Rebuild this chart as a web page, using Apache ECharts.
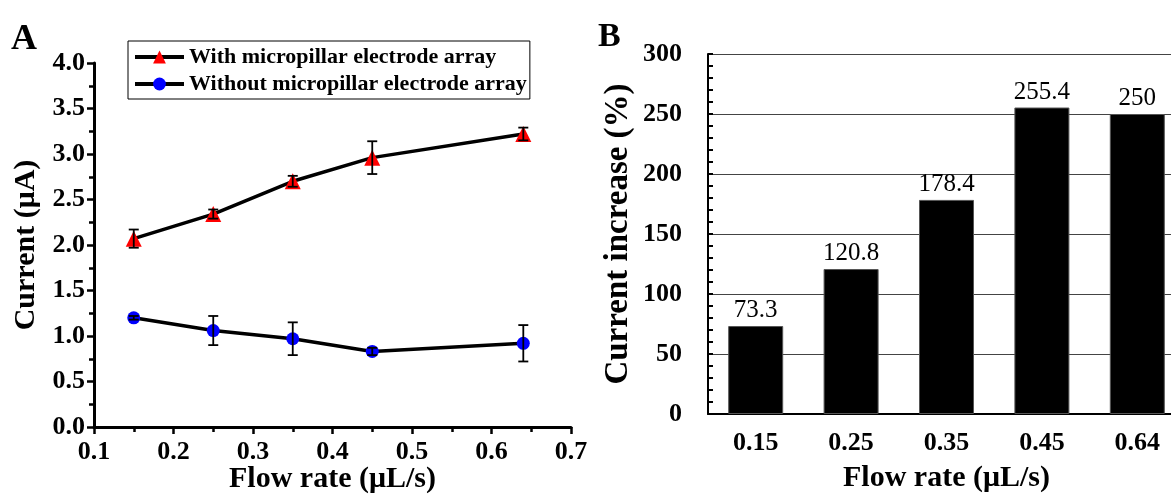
<!DOCTYPE html>
<html><head><meta charset="utf-8">
<script src="https://cdn.jsdelivr.net/npm/echarts@6/dist/echarts.min.js"></script>
<style>html,body{margin:0;padding:0;background:#fff;overflow:hidden}#c{width:1171px;height:496px}</style>
</head><body><div id="c"></div>
<script>
const flowA = [0.15, 0.25, 0.35, 0.45, 0.64];
const withArr = [2.07, 2.34, 2.70, 2.96, 3.22];
const withErr = [0.10, 0.05, 0.06, 0.18, 0.07];
const withoutArr = [1.20, 1.06, 0.97, 0.83, 0.92];
const withoutErr = [0.02, 0.16, 0.18, 0.04, 0.20];
const flowB = ['0.15', '0.25', '0.35', '0.45', '0.64'];
const increase = [73.3, 120.8, 178.4, 255.4, 250];
const nameWith = 'With micropillar electrode array';
const nameWithout = 'Without micropillar electrode array';

const F = 'Liberation Serif';
const chart = echarts.init(document.getElementById('c'), null, {renderer: 'canvas'});

function errData(xs, ys, es) { return xs.map((x, i) => [x, ys[i] - es[i], ys[i] + es[i]]); }
function errRender(params, api) {
  const lo = api.coord([api.value(0), api.value(1)]);
  const hi = api.coord([api.value(0), api.value(2)]);
  const w = 5;
  const st = {stroke: '#000', lineWidth: 1.8};
  return {type: 'group', children: [
    {type: 'line', shape: {x1: lo[0], y1: lo[1], x2: hi[0], y2: hi[1]}, style: st},
    {type: 'line', shape: {x1: lo[0] - w, y1: lo[1], x2: lo[0] + w, y2: lo[1]}, style: st},
    {type: 'line', shape: {x1: hi[0] - w, y1: hi[1], x2: hi[0] + w, y2: hi[1]}, style: st}
  ]};
}

const tickLbl = {fontFamily: F, fontWeight: 'bold', fontSize: 26, color: '#000'};
const nameX = {fontFamily: F, fontWeight: 'bold', fontSize: 30, color: '#000'};

chart.setOption({
  animation: false,
  textStyle: {fontFamily: F},
  graphic: [
    {type: 'text', left: 11, top: 22, style: {text: 'A', font: 'bold 36px "Liberation Serif"', fill: '#000'}},
    {type: 'text', left: 598, top: 20, style: {text: 'B', font: 'bold 34px "Liberation Serif"', fill: '#000'}}
  ],
  legend: {
    left: 128, top: 41, orient: 'vertical',
    data: [nameWith, nameWithout],
    itemWidth: 49, itemHeight: 16, itemGap: 5,
    padding: [5, 3, 4, 5],
    borderColor: '#000', borderWidth: 1,
    lineStyle: {width: 4, color: '#000'},
    textStyle: {fontFamily: F, fontWeight: 'bold', fontSize: 22, color: '#000'}
  },
  grid: [
    {left: 94, top: 63, width: 477, height: 364, containLabel: false, outerBoundsMode: 'none'},
    {left: 708, top: 54, width: 477, height: 360, containLabel: false, outerBoundsMode: 'none'}
  ],
  xAxis: [
    {gridIndex: 0, type: 'value', min: 0.1, max: 0.7, interval: 0.1,
     name: 'Flow rate (\u03bcL/s)', nameLocation: 'middle', nameGap: 37, nameMoveOverlap: false, nameTextStyle: nameX,
     axisLine: {lineStyle: {color: '#000', width: 3}},
     axisTick: {show: true, inside: false, length: 7, lineStyle: {color: '#000', width: 2.5}},
     minorTick: {show: true, splitNumber: 2, length: 5, lineStyle: {color: '#000', width: 2.5}},
     splitLine: {show: false},
     axisLabel: Object.assign({margin: 12, formatter: v => v.toFixed(1)}, tickLbl)},
    {gridIndex: 1, type: 'category', data: flowB,
     name: 'Flow rate (\u03bcL/s)', nameLocation: 'middle', nameGap: 49, nameMoveOverlap: false, nameTextStyle: nameX,
     axisLine: {lineStyle: {color: '#000', width: 2}},
     axisTick: {show: false},
     axisLabel: Object.assign({margin: 16}, tickLbl)}
  ],
  yAxis: [
    {gridIndex: 0, type: 'value', min: 0, max: 4, interval: 0.5,
     name: 'Current (\u03bcA)', nameLocation: 'middle', nameGap: 53, nameMoveOverlap: false,
     nameTextStyle: {fontFamily: F, fontWeight: 'bold', fontSize: 30, color: '#000'},
     axisLine: {show: true, lineStyle: {color: '#000', width: 3}},
     axisTick: {show: true, inside: false, length: 7, lineStyle: {color: '#000', width: 2.5}},
     minorTick: {show: true, splitNumber: 2, length: 5, lineStyle: {color: '#000', width: 2.5}},
     splitLine: {show: false},
     axisLabel: Object.assign({margin: 9, formatter: v => v.toFixed(1)}, tickLbl)},
    {gridIndex: 1, type: 'value', min: 0, max: 300, interval: 50,
     name: 'Current increase (%)', nameLocation: 'middle', nameGap: 73, nameMoveOverlap: false,
     nameTextStyle: {fontFamily: F, fontWeight: 'bold', fontSize: 33, color: '#000'},
     axisLine: {show: true, lineStyle: {color: '#000', width: 2}},
     axisTick: {show: true, inside: true, length: 5, lineStyle: {color: '#000', width: 2}},
     minorTick: {show: true, splitNumber: 5, length: 5, lineStyle: {color: '#000', width: 2}},
     splitLine: {show: true, lineStyle: {color: '#444', width: 1.2}},
     axisLabel: Object.assign({margin: 26}, tickLbl)}
  ],
  series: [
    {name: nameWith, type: 'line', xAxisIndex: 0, yAxisIndex: 0,
     data: flowA.map((x, i) => [x, withArr[i]]),
     symbol: 'triangle', symbolSize: 16,
     itemStyle: {color: '#ff0000'}, lineStyle: {color: '#000', width: 3.5}, z: 3},
    {name: nameWithout, type: 'line', xAxisIndex: 0, yAxisIndex: 0,
     data: flowA.map((x, i) => [x, withoutArr[i]]),
     symbol: 'circle', symbolSize: 13,
     itemStyle: {color: '#0000ff'}, lineStyle: {color: '#000', width: 3.5}, z: 3},
    {type: 'custom', xAxisIndex: 0, yAxisIndex: 0, renderItem: errRender,
     data: errData(flowA, withArr, withErr), z: 5, silent: true},
    {type: 'custom', xAxisIndex: 0, yAxisIndex: 0, renderItem: errRender,
     data: errData(flowA, withoutArr, withoutErr), z: 5, silent: true},
    {type: 'bar', xAxisIndex: 1, yAxisIndex: 1, data: increase, barWidth: 55,
     itemStyle: {color: '#000', borderColor: '#555', borderWidth: 1},
     label: {show: true, position: 'top', distance: 3, fontFamily: F, fontSize: 25, color: '#000'}, z: 4}
  ]
});
</script></body></html>
